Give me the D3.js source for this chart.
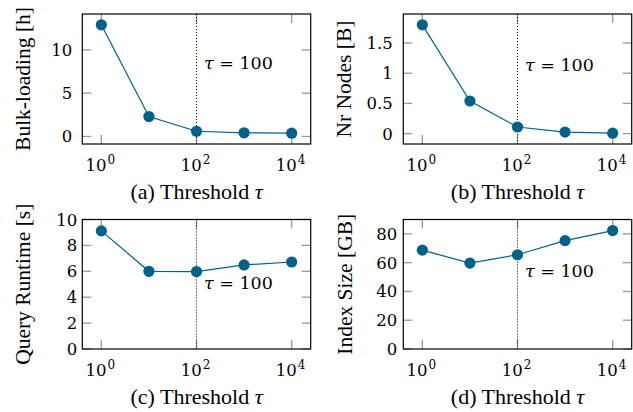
<!DOCTYPE html>
<html>
<head>
<meta charset="utf-8">
<script src="https://cdn.jsdelivr.net/npm/d3@7/dist/d3.min.js"></script>
<style>
  body { margin: 0; background: #fff; }
  svg { display: block; }
</style>
</head>
<body>
<div id="chart"></div>
<script>
// Threshold values (x) and the four measured series
var thresholds = [1, 10, 100, 1000, 10000]
var bulkLoading = [12.9, 2.3, 0.6, 0.42, 0.38]
var nrNodes = [1.80, 0.54, 0.11, 0.025, 0.008]
var queryRuntime = [9.12, 6.0, 5.98, 6.49, 6.72]
var indexSize = [68.7, 59.7, 65.5, 75.3, 82.3]

// Tick values
var xTicks = [1, 100, 10000]
var bulkTicks = [0, 5, 10]
var nodeTicks = [0, 0.5, 1, 1.5]
var runtimeTicks = [0, 2, 4, 6, 8, 10]
var sizeTicks = [0, 20, 40, 60, 80]

var tauMark = 100

var width = 633, height = 412
var color = "#00628a"
var serif = "'Liberation Serif', 'Times New Roman', serif"
var mathFont = "'DejaVu Serif', serif"

var svg = d3.select("#chart")
    .append("svg")
    .attr("width", width)
    .attr("height", height)
    .attr("font-family", serif)

// Panel layout (box of each plot)
var panels = [
    { letter: "a", label: "Bulk-loading [h]", values: bulkLoading, ticks: bulkTicks, fmt: d3.format("d"),
      x0: 82.3, x1: 310.7, y0: 14, y1: 144, yDomain: null, labelY: 7.75, tickGap: 10, ylabX: 30 },
    { letter: "b", label: "Nr Nodes [B]", values: nrNodes, ticks: nodeTicks, fmt: function(d) { return String(d) },
      x0: 403.3, x1: 631.7, y0: 14, y1: 144, yDomain: null, labelY: 1.03, tickGap: 10.5, ylabX: 351 },
    { letter: "c", label: "Query Runtime [s]", values: queryRuntime, ticks: runtimeTicks, fmt: d3.format("d"),
      x0: 82.3, x1: 310.7, y0: 219.5, y1: 349, yDomain: [0, 10], labelY: 4.62, tickGap: 5, ylabX: 30 },
    { letter: "d", label: "Index Size [GB]", values: indexSize, ticks: sizeTicks, fmt: d3.format("d"),
      x0: 403.3, x1: 631.7, y0: 219.5, y1: 349, yDomain: [0, 90], labelY: 50, tickGap: 6, ylabX: 352 }
]

var tickLen = 9

panels.forEach(function(p) {

    // ----------------- //
    // Scales
    // ----------------- //
    var x = d3.scaleLog()
        .domain([Math.pow(10, -0.4), Math.pow(10, 4.4)])
        .range([p.x0, p.x1])

    var yDom = p.yDomain
    if (!yDom) {
        // pgfplots style: enlarge limits by 10% of data range
        var ext = d3.extent(p.values)
        var r = ext[1] - ext[0]
        yDom = [ext[0] - 0.1 * r, ext[1] + 0.1 * r]
    }
    var y = d3.scaleLinear()
        .domain(yDom)
        .range([p.y1, p.y0])

    var g = svg.append("g")

    // Ticks (inside, mirrored on all four sides)
    var tg = g.append("g").attr("stroke", "#9a9a9a").attr("stroke-width", 1.3)
    p.ticks.forEach(function(t) {
        tg.append("line").attr("x1", p.x0).attr("x2", p.x0 + tickLen).attr("y1", y(t)).attr("y2", y(t))
        tg.append("line").attr("x1", p.x1).attr("x2", p.x1 - tickLen).attr("y1", y(t)).attr("y2", y(t))
    })
    xTicks.forEach(function(t) {
        tg.append("line").attr("x1", x(t)).attr("x2", x(t)).attr("y1", p.y1).attr("y2", p.y1 - tickLen)
        tg.append("line").attr("x1", x(t)).attr("x2", x(t)).attr("y1", p.y0).attr("y2", p.y0 + tickLen)
    })

    // Vertical dotted marker at tau = 100
    g.append("line")
        .attr("x1", x(tauMark)).attr("x2", x(tauMark))
        .attr("y1", p.y0).attr("y2", p.y1)
        .attr("stroke", "#000")
        .attr("stroke-width", 1)
        .attr("stroke-dasharray", "1,2")

    // Axis box
    g.append("rect")
        .attr("x", p.x0).attr("y", p.y0)
        .attr("width", p.x1 - p.x0).attr("height", p.y1 - p.y0)
        .attr("fill", "none")
        .attr("stroke", "#000")
        .attr("stroke-width", 1.2)

    // Y tick labels
    p.ticks.forEach(function(t) {
        g.append("text")
            .attr("x", p.x0 - p.tickGap)
            .attr("y", y(t) + 6)
            .attr("text-anchor", "end")
            .attr("font-family", mathFont)
            .attr("font-size", "16.5px")
            .text(p.fmt(t))
    })

    // X tick labels 10^k
    xTicks.forEach(function(t) {
        var tx = g.append("text")
            .attr("x", x(t) - 1)
            .attr("y", p.y1 + 26.5)
            .attr("text-anchor", "middle")
            .attr("font-family", mathFont)
            .attr("font-size", "16.5px")
        tx.append("tspan").text("10")
        tx.append("tspan")
            .attr("font-size", "12px")
            .attr("dy", "-7")
            .attr("dx", "1")
            .text(Math.round(Math.log10(t)))
    })

    // Line + markers
    var pts = thresholds.map(function(t, i) { return [t, p.values[i]] })
    g.append("path")
        .datum(pts)
        .attr("fill", "none")
        .attr("stroke", color)
        .attr("stroke-width", 1.2)
        .attr("d", d3.line().x(function(d) { return x(d[0]) }).y(function(d) { return y(d[1]) }))

    g.selectAll("circle")
        .data(pts)
        .enter()
        .append("circle")
        .attr("cx", function(d) { return x(d[0]) })
        .attr("cy", function(d) { return y(d[1]) })
        .attr("r", 5.6)
        .attr("fill", color)

    // tau = 100 annotation
    var ann = g.append("text")
        .attr("x", x(tauMark) + 7.5)
        .attr("y", y(p.labelY))
        .attr("font-family", mathFont)
        .attr("font-size", "17.5px")
    ann.append("tspan").attr("font-style", "italic").text("τ")
    ann.append("tspan").text(" = 100")

    // Y axis label
    var cy = (p.y0 + p.y1) / 2
    g.append("text")
        .attr("transform", "translate(" + p.ylabX + "," + cy + ") rotate(-90)")
        .attr("text-anchor", "middle")
        .attr("font-family", serif)
        .attr("font-size", "21.5px")
        .text(p.label)

    // Caption
    var cap = g.append("text")
        .attr("x", (p.x0 + p.x1) / 2)
        .attr("y", p.y1 + 55)
        .attr("text-anchor", "middle")
        .attr("font-family", serif)
        .attr("font-size", "22px")
    cap.append("tspan").text("(" + p.letter + ") Threshold ")
    cap.append("tspan").attr("font-style", "italic").text("τ")
})
</script>
</body>
</html>
